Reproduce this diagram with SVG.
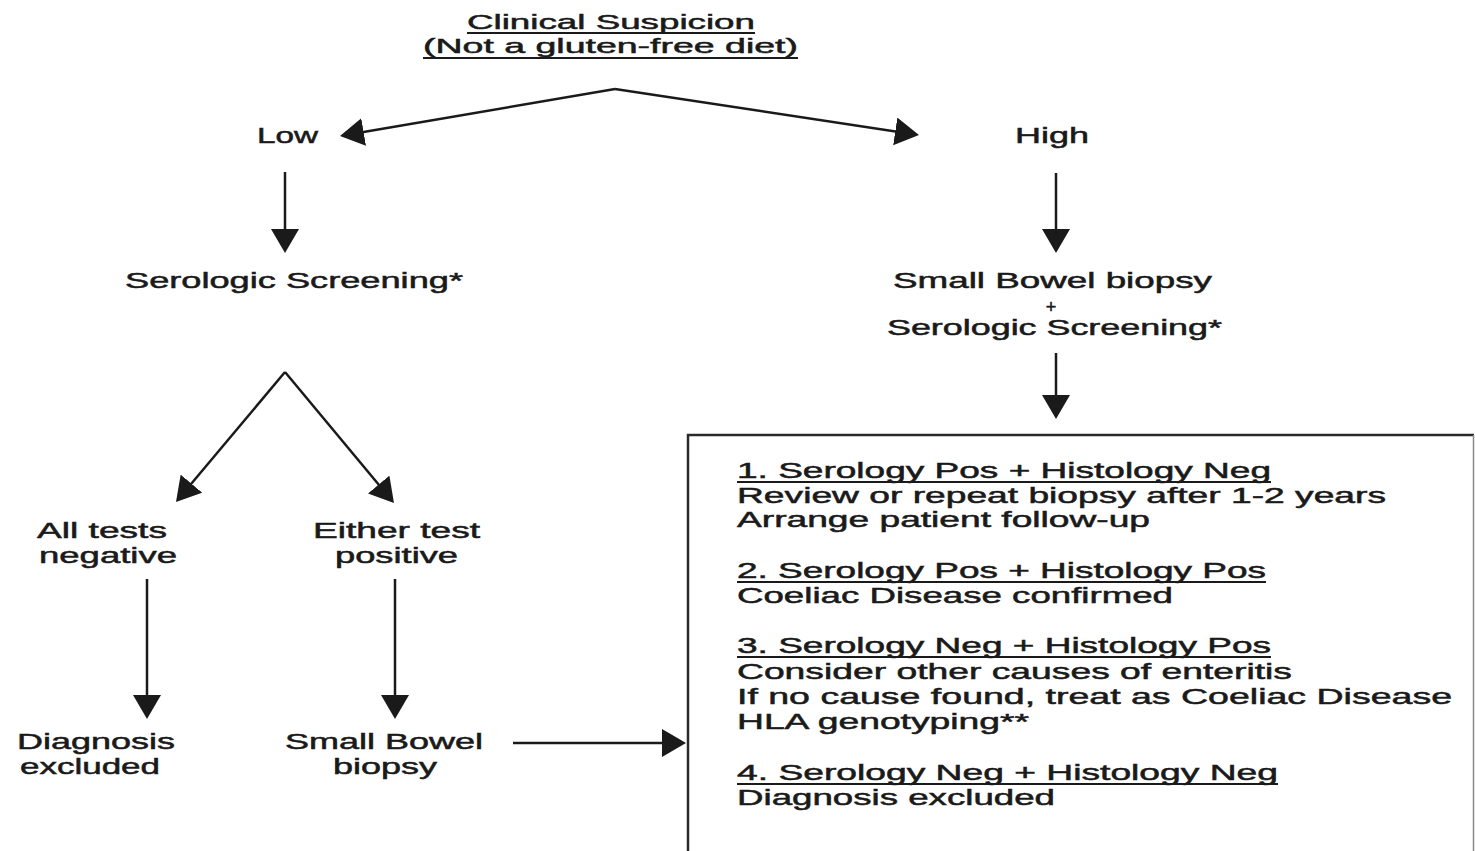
<svg xmlns="http://www.w3.org/2000/svg" width="1475" height="851" viewBox="0 0 1475 851">
<style>
text{font-family:"Liberation Sans",Arial,Helvetica,sans-serif;font-size:22px;fill:#1a1a1a;stroke:#1a1a1a;stroke-width:0.5px}
.title{font-size:21px}
.ul{stroke:#1a1a1a;stroke-width:1.8}
.plus{font-size:18px}
.conn line{stroke:#1a1a1a;stroke-width:2.5;fill:none}
.box{fill:none;stroke:#2a2a2a;stroke-width:2.5}
.boxr{fill:none;stroke:#8a8a8a;stroke-width:1.5}
</style>
<defs>
<marker id="ah" viewBox="0 0 24 28" refX="12" refY="14" markerWidth="24" markerHeight="28" markerUnits="userSpaceOnUse" orient="auto">
<path d="M0,0 L24,14 L0,28 z" fill="#1a1a1a"/>
</marker>
</defs>
<rect width="1475" height="851" fill="#ffffff"/>
<g id="n-clinical">
<text class="title" x="467" y="29" textLength="288" lengthAdjust="spacingAndGlyphs">Clinical Suspicion</text>
<line class="ul" x1="467" y1="33" x2="755" y2="33"/>
<text class="title" x="423" y="53" textLength="375" lengthAdjust="spacingAndGlyphs">(Not a gluten-free diet)</text>
<line class="ul" x1="423" y1="58" x2="798" y2="58"/>
</g>
<g id="n-low"><text x="257" y="143" textLength="61" lengthAdjust="spacingAndGlyphs">Low</text></g>
<g id="n-high"><text x="1015" y="143" textLength="74" lengthAdjust="spacingAndGlyphs">High</text></g>
<g id="n-sero"><text x="125" y="288" textLength="338" lengthAdjust="spacingAndGlyphs">Serologic Screening*</text></g>
<g id="n-biopsy-sero">
<text x="893" y="288" textLength="319" lengthAdjust="spacingAndGlyphs">Small Bowel biopsy</text>
<text class="plus" x="1051" y="313" text-anchor="middle">+</text>
<text x="887" y="335" textLength="335" lengthAdjust="spacingAndGlyphs">Serologic Screening*</text>
</g>
<g id="n-allneg">
<text x="37" y="538" textLength="130" lengthAdjust="spacingAndGlyphs">All tests</text>
<text x="39" y="563" textLength="138" lengthAdjust="spacingAndGlyphs">negative</text>
</g>
<g id="n-eitherpos">
<text x="313" y="538" textLength="167" lengthAdjust="spacingAndGlyphs">Either test</text>
<text x="335" y="563" textLength="123" lengthAdjust="spacingAndGlyphs">positive</text>
</g>
<g id="n-excluded">
<text x="17" y="749" textLength="158" lengthAdjust="spacingAndGlyphs">Diagnosis</text>
<text x="20" y="774" textLength="140" lengthAdjust="spacingAndGlyphs">excluded</text>
</g>
<g id="n-smallbowel">
<text x="285" y="749" textLength="198" lengthAdjust="spacingAndGlyphs">Small Bowel</text>
<text x="333" y="774" textLength="104" lengthAdjust="spacingAndGlyphs">biopsy</text>
</g>
<g id="n-outcomes">
<path class="box" d="M688,851 V435 H1474"/>
<path class="boxr" d="M1473.5,435 V851"/>
<text x="737" y="478" textLength="534" lengthAdjust="spacingAndGlyphs">1. Serology Pos + Histology Neg</text>
<line class="ul" x1="737" y1="482" x2="1271" y2="482"/>
<text x="737" y="503" textLength="649" lengthAdjust="spacingAndGlyphs">Review or repeat biopsy after 1-2 years</text>
<text x="737" y="527" textLength="413" lengthAdjust="spacingAndGlyphs">Arrange patient follow-up</text>
<text x="737" y="578" textLength="529" lengthAdjust="spacingAndGlyphs">2. Serology Pos + Histology Pos</text>
<line class="ul" x1="737" y1="582" x2="1266" y2="582"/>
<text x="737" y="603" textLength="436" lengthAdjust="spacingAndGlyphs">Coeliac Disease confirmed</text>
<text x="737" y="653" textLength="534" lengthAdjust="spacingAndGlyphs">3. Serology Neg + Histology Pos</text>
<line class="ul" x1="737" y1="657" x2="1271" y2="657"/>
<text x="737" y="679" textLength="555" lengthAdjust="spacingAndGlyphs">Consider other causes of enteritis</text>
<text x="737" y="704" textLength="715" lengthAdjust="spacingAndGlyphs">If no cause found, treat as Coeliac Disease</text>
<text x="737" y="729" textLength="292" lengthAdjust="spacingAndGlyphs">HLA genotyping**</text>
<text x="737" y="780" textLength="541" lengthAdjust="spacingAndGlyphs">4. Serology Neg + Histology Neg</text>
<line class="ul" x1="737" y1="784" x2="1278" y2="784"/>
<text x="737" y="805" textLength="318" lengthAdjust="spacingAndGlyphs">Diagnosis excluded</text>
</g>
<g id="connectors" class="conn">
<line x1="615" y1="89" x2="351.8" y2="134" marker-end="url(#ah)"/>
<line x1="615" y1="89" x2="907.1" y2="133.2" marker-end="url(#ah)"/>
<line x1="285" y1="172" x2="285" y2="241" marker-end="url(#ah)"/>
<line x1="1056" y1="173" x2="1056" y2="241" marker-end="url(#ah)"/>
<line x1="1056" y1="353" x2="1056" y2="407" marker-end="url(#ah)"/>
<line x1="285" y1="372" x2="183.7" y2="492.8" marker-end="url(#ah)"/>
<line x1="285" y1="372" x2="386.3" y2="493.8" marker-end="url(#ah)"/>
<line x1="147" y1="579" x2="147" y2="707" marker-end="url(#ah)"/>
<line x1="395" y1="579" x2="395" y2="707" marker-end="url(#ah)"/>
<line x1="513" y1="743" x2="674" y2="743" marker-end="url(#ah)"/>
</g>
</svg>
